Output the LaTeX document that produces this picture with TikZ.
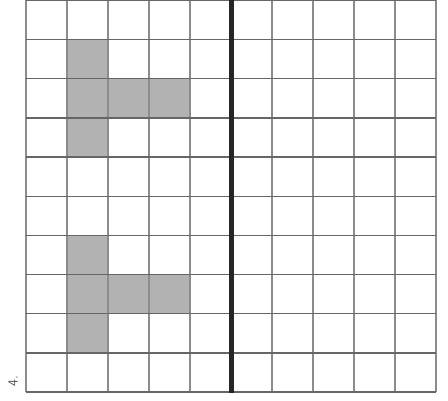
\documentclass[tikz,border=0pt]{standalone}
\begin{document}
\begin{tikzpicture}[x=1pt,y=-1pt,
  cellfill/.style={fill=black!30},
  gridv/.style={draw=black!45,line width=1.6pt},
  gridh/.style={draw=black!60,line width=1.4pt},
  divider/.style={draw=black!85,line width=4.5pt},
  lbl/.style={font=\sffamily\fontsize{14}{16}\selectfont,text=black!65,rotate=90,inner sep=0pt}]
\useasboundingbox (0,0) rectangle (448,401);
\fill[white] (0,0) rectangle (448,401);
% shaded cells
\foreach \r/\c in {1/1,2/1,2/2,2/3,3/1,6/1,7/1,7/2,7/3,8/1}{
  \fill[cellfill] (26+41*\c,0.5+39.15*\r) rectangle (26+41*\c+41,0.5+39.15*\r+39.15);
}
% vertical grid lines
\foreach \c in {0,1,2,3,4,6,7,8,9,10}{
  \draw[gridv] (26+41*\c,0) -- (26+41*\c,392);
}
% horizontal grid lines
\foreach \r in {0,1,...,10}{
  \draw[gridh] (26,0.5+39.15*\r) -- (436,0.5+39.15*\r);
}
% divider
\coordinate (dtop) at (231.5,0);
\coordinate (dbot) at (231.5,393);
\draw[divider] (dtop) -- (dbot);
\node[lbl] (num) at (13,381) {4.};
\end{tikzpicture}
\end{document}
